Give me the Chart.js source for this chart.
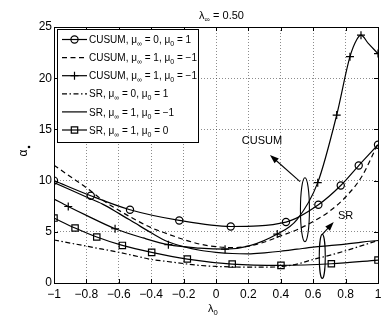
<!DOCTYPE html>
<html>
<head>
<meta charset="utf-8">
<script src="https://cdn.jsdelivr.net/npm/chart.js@4.4.1/dist/chart.umd.min.js"></script>
<style>
  html, body { margin: 0; padding: 0; background: #fff; }
</style>
</head>
<body>
<canvas id="chart" width="388" height="319"></canvas>
<script>
// x axis: lambda_0, y axis: alpha_*
const xTicks = [-1, -0.8, -0.6, -0.4, -0.2, 0, 0.2, 0.4, 0.6, 0.8, 1];
const yTicks = [0, 5, 10, 15, 20, 25];

// CUSUM, mu_inf = 0, mu_0 = 1 (circles)
const cusum01X = [-1, -0.773, -0.531, -0.227, 0.091, 0.432, 0.632, 0.77, 0.881, 1];
const cusum01Y = [10.0, 8.52, 7.15, 6.11, 5.52, 5.95, 7.64, 9.52, 11.47, 13.5];

// CUSUM, mu_inf = 1, mu_0 = -1 (dashed)
const cusumDashX = [-1, -0.9, -0.8, -0.7, -0.6, -0.5, -0.4, -0.3, -0.2, -0.1, 0, 0.1, 0.2, 0.3, 0.4, 0.5, 0.6, 0.7, 0.8, 0.9, 1];
const cusumDashY = [11.5, 10.4, 9.3, 8.1, 7.1, 6.2, 5.4, 4.8, 4.25, 3.8, 3.55, 3.45, 3.6, 4.0, 4.6, 5.2, 6.0, 7.0, 8.4, 10.4, 13.6];

// CUSUM, mu_inf = 1, mu_0 = -1 (plus markers)
const cusumPlusX = [-1, -0.912, -0.8, -0.623, -0.45, -0.294, -0.1, 0.056, 0.2, 0.378, 0.5, 0.628, 0.745, 0.827, 0.87, 0.895, 0.94, 1];
const cusumPlusY = [8.2, 7.47, 6.6, 5.3, 4.4, 3.74, 3.4, 3.3, 3.6, 4.78, 6.2, 9.8, 16.4, 22.1, 23.8, 24.2, 23.4, 22.4];
const cusumPlusMarkX = [-0.912, -0.623, -0.294, 0.056, 0.378, 0.628, 0.745, 0.827, 0.895, 1];
const cusumPlusMarkY = [7.47, 5.3, 3.74, 3.3, 4.78, 9.8, 16.4, 22.1, 24.2, 22.4];

// SR, mu_inf = 0, mu_0 = 1 (dash-dot)
const sr01X = [-1, -0.9, -0.8, -0.7, -0.6, -0.5, -0.4, -0.3, -0.2, -0.1, 0, 0.1, 0.2, 0.3, 0.4, 0.5, 0.6, 0.7, 0.8, 0.9, 1];
const sr01Y = [4.2, 3.9, 3.6, 3.3, 3.0, 2.65, 2.3, 2.1, 1.9, 1.72, 1.62, 1.57, 1.55, 1.55, 1.6, 1.85, 2.3, 2.7, 3.15, 3.65, 4.15];

// SR, mu_inf = 1, mu_0 = -1 (solid)
const sr1m1X = [-1, -0.9, -0.8, -0.7, -0.6, -0.5, -0.4, -0.3, -0.2, -0.1, 0, 0.1, 0.2, 0.3, 0.4, 0.5, 0.6, 0.7, 0.8, 0.9, 1];
const sr1m1Y = [9.8, 9.1, 8.4, 7.7, 6.8, 5.85, 4.9, 4.05, 3.55, 3.2, 3.0, 2.88, 2.85, 2.95, 3.1, 3.3, 3.5, 3.65, 3.8, 4.0, 4.15];

// SR, mu_inf = 1, mu_0 = 0 (squares)
const sr10X = [-1, -0.87, -0.736, -0.578, -0.397, -0.177, 0.1, 0.401, 0.712, 1];
const sr10Y = [6.34, 5.37, 4.49, 3.67, 2.99, 2.34, 1.85, 1.72, 1.88, 2.24];

const pts = (xs, ys) => xs.map((x, i) => ({ x: x, y: ys[i] }));

function lineSet(xs, ys, dash) {
    return {
        data: pts(xs, ys),
        showLine: true,
        borderColor: '#000',
        borderWidth: 1.2,
        borderDash: dash,
        pointRadius: 0,
        cubicInterpolationMode: 'monotone'
    };
}

function markSet(xs, ys, style, r) {
    return {
        data: pts(xs, ys),
        showLine: false,
        pointStyle: style,
        pointRadius: r,
        pointBorderColor: '#000',
        pointBackgroundColor: 'rgba(0,0,0,0)',
        pointBorderWidth: 1.2
    };
}

// legend rows: [text parts, dash, marker]
const legendRows = [
    [[['CUSUM, μ'], ['∞', 1], [' = 0, μ'], ['0', 1], [' = 1']], [], 'circle'],
    [[['CUSUM, μ'], ['∞', 1], [' = 1, μ'], ['0', 1], [' = −1']], [5, 3.5], null],
    [[['CUSUM, μ'], ['∞', 1], [' = 1, μ'], ['0', 1], [' = −1']], [], 'plus'],
    [[['SR, μ'], ['∞', 1], [' = 0, μ'], ['0', 1], [' = 1']], [5, 2.5, 1.5, 2.5], null],
    [[['SR, μ'], ['∞', 1], [' = 1, μ'], ['0', 1], [' = −1']], [], null],
    [[['SR, μ'], ['∞', 1], [' = 1, μ'], ['0', 1], [' = 0']], [], 'square']
];

const FONT = '"Liberation Sans", Arial, Helvetica, sans-serif';

function richWidth(ctx, parts, size) {
    let w = 0;
    parts.forEach(p => {
        ctx.font = (p[1] ? size * 0.7 : size) + 'px ' + FONT;
        w += ctx.measureText(p[0]).width;
    });
    return w;
}

function richText(ctx, parts, x, y, size) {
    ctx.textAlign = 'left';
    ctx.textBaseline = 'alphabetic';
    parts.forEach(p => {
        const s = p[1] ? size * 0.7 : size;
        ctx.font = s + 'px ' + FONT;
        ctx.fillText(p[0], x, y + (p[1] ? size * 0.3 : 0));
        x += ctx.measureText(p[0]).width;
    });
}

function drawMarker(ctx, kind, x, y) {
    ctx.beginPath();
    if (kind === 'circle') {
        ctx.arc(x, y, 3.6, 0, Math.PI * 2);
    } else if (kind === 'plus') {
        ctx.moveTo(x - 4, y); ctx.lineTo(x + 4, y);
        ctx.moveTo(x, y - 4); ctx.lineTo(x, y + 4);
    } else if (kind === 'square') {
        ctx.rect(x - 3.2, y - 3.2, 6.4, 6.4);
    }
    ctx.stroke();
}

function arrow(ctx, x1, y1, x2, y2) {
    const a = Math.atan2(y2 - y1, x2 - x1);
    ctx.beginPath();
    ctx.moveTo(x1, y1);
    ctx.lineTo(x2 - 6 * Math.cos(a), y2 - 6 * Math.sin(a));
    ctx.stroke();
    ctx.beginPath();
    ctx.moveTo(x2, y2);
    ctx.lineTo(x2 - 9 * Math.cos(a) + 3.2 * Math.sin(a), y2 - 9 * Math.sin(a) - 3.2 * Math.cos(a));
    ctx.lineTo(x2 - 9 * Math.cos(a) - 3.2 * Math.sin(a), y2 - 9 * Math.sin(a) + 3.2 * Math.cos(a));
    ctx.closePath();
    ctx.fill();
}

// decorations in MATLAB style: box, inward ticks, labels, legend, notes
const decor = {
    id: 'decor',
    afterDraw(chart) {
        const ctx = chart.ctx;
        const a = chart.chartArea;
        const xs = chart.scales.x, ys = chart.scales.y;
        ctx.save();
        ctx.strokeStyle = '#000';
        ctx.fillStyle = '#000';
        ctx.lineWidth = 1;
        ctx.setLineDash([]);

        // box
        ctx.strokeRect(Math.round(a.left) + 0.5, Math.round(a.top) + 0.5,
            Math.round(a.right - a.left), Math.round(a.bottom - a.top));

        // inward ticks
        ctx.beginPath();
        xTicks.forEach(v => {
            const px = Math.round(xs.getPixelForValue(v)) + 0.5;
            ctx.moveTo(px, a.bottom); ctx.lineTo(px, a.bottom - 4);
            ctx.moveTo(px, a.top); ctx.lineTo(px, a.top + 4);
        });
        yTicks.forEach(v => {
            const py = Math.round(ys.getPixelForValue(v)) + 0.5;
            ctx.moveTo(a.left, py); ctx.lineTo(a.left + 4, py);
            ctx.moveTo(a.right, py); ctx.lineTo(a.right - 4, py);
        });
        ctx.stroke();

        // ellipses and arrows
        ctx.lineWidth = 1.1;
        const ell = (cx, cy, rx, ry) => {
            ctx.beginPath();
            ctx.ellipse(xs.getPixelForValue(cx), ys.getPixelForValue(cy), rx, ry, 0, 0, Math.PI * 2);
            ctx.stroke();
        };
        ell(0.549, 7.15, 4.5, 32);
        ell(0.656, 2.6, 3, 22);
        arrow(ctx, xs.getPixelForValue(0.519), ys.getPixelForValue(9.9),
            xs.getPixelForValue(0.333), ys.getPixelForValue(12.5));
        arrow(ctx, xs.getPixelForValue(0.656), ys.getPixelForValue(4.75),
            xs.getPixelForValue(0.727), ys.getPixelForValue(5.95));
        ctx.font = '11px ' + FONT;
        ctx.textAlign = 'center';
        ctx.textBaseline = 'middle';
        ctx.fillText('CUSUM', xs.getPixelForValue(0.284), ys.getPixelForValue(13.9));
        ctx.fillText('SR', xs.getPixelForValue(0.8), ys.getPixelForValue(6.55));

        // title
        const title = [['λ'], ['∞', 1], [' = 0.50']];
        richText(ctx, title, 221.5 - richWidth(ctx, title, 11) / 2, 18.5, 11);

        // x label
        const xl = [['λ'], ['0', 1]];
        richText(ctx, xl, 213 - richWidth(ctx, xl, 11) / 2, 312, 11);

        // y label (rotated)
        ctx.save();
        ctx.translate(27, 153);
        ctx.rotate(-Math.PI / 2);
        ctx.font = '12px ' + FONT;
        ctx.textAlign = 'center';
        ctx.textBaseline = 'alphabetic';
        ctx.fillText('α', 0, 0);
        ctx.beginPath();
        ctx.arc(6, 2, 1.3, 0, Math.PI * 2);
        ctx.fill();
        ctx.restore();

        // legend
        const lx = 57, ly = 29, lw = 141, lh = 113;
        ctx.fillStyle = '#fff';
        ctx.fillRect(lx, ly, lw, lh);
        ctx.strokeStyle = '#000';
        ctx.lineWidth = 1;
        ctx.strokeRect(lx + 0.5, ly + 0.5, lw, lh);
        ctx.fillStyle = '#000';
        legendRows.forEach((row, i) => {
            const y = 39.5 + i * 18.1;
            ctx.lineWidth = 1.2;
            ctx.setLineDash(row[1]);
            ctx.beginPath();
            ctx.moveTo(62, y); ctx.lineTo(87, y);
            ctx.stroke();
            ctx.setLineDash([]);
            if (row[2]) drawMarker(ctx, row[2], 74.5, y);
            richText(ctx, row[0], 89, y + 3.6, 10);
        });
        ctx.restore();
    }
};

new Chart(document.getElementById('chart'), {
    type: 'scatter',
    data: {
        datasets: [
            lineSet(cusum01X, cusum01Y, []),
            lineSet(cusumDashX, cusumDashY, [5, 3.5]),
            lineSet(cusumPlusX, cusumPlusY, []),
            lineSet(sr01X, sr01Y, [5, 2.5, 1.5, 2.5]),
            lineSet(sr1m1X, sr1m1Y, []),
            lineSet(sr10X, sr10Y, []),
            markSet(cusum01X, cusum01Y, 'circle', 3.6),
            markSet(cusumPlusMarkX, cusumPlusMarkY, 'cross', 4),
            markSet(sr10X, sr10Y, 'rect', 4.5)
        ]
    },
    options: {
        responsive: false,
        animation: false,
        devicePixelRatio: 1,
        layout: { autoPadding: false, padding: { left: 0, right: 10, top: 27, bottom: 0 } },
        plugins: { legend: { display: false }, tooltip: { enabled: false } },
        scales: {
            x: {
                type: 'linear',
                min: -1, max: 1,
                afterFit: s => { s.height = 36; },
                afterBuildTicks: s => { s.ticks = xTicks.map(v => ({ value: v })); },
                ticks: {
                    color: '#000',
                    padding: 4,
                    maxRotation: 0,
                    font: { family: FONT, size: 12 },
                    callback: v => (Math.round(v * 10) / 10).toString().replace('-', '−')
                },
                grid: { color: 'rgba(0,0,0,0.45)', lineWidth: 1, drawTicks: false },
                border: { display: false, dash: [1, 2] }
            },
            y: {
                min: 0, max: 25,
                afterFit: s => { s.width = 54; },
                afterBuildTicks: s => { s.ticks = yTicks.map(v => ({ value: v })); },
                ticks: {
                    color: '#000',
                    padding: 2,
                    font: { family: FONT, size: 12 },
                    callback: v => String(v)
                },
                grid: { color: 'rgba(0,0,0,0.45)', lineWidth: 1, drawTicks: false },
                border: { display: false, dash: [1, 2] }
            }
        }
    },
    plugins: [decor]
});
</script>
</body>
</html>
